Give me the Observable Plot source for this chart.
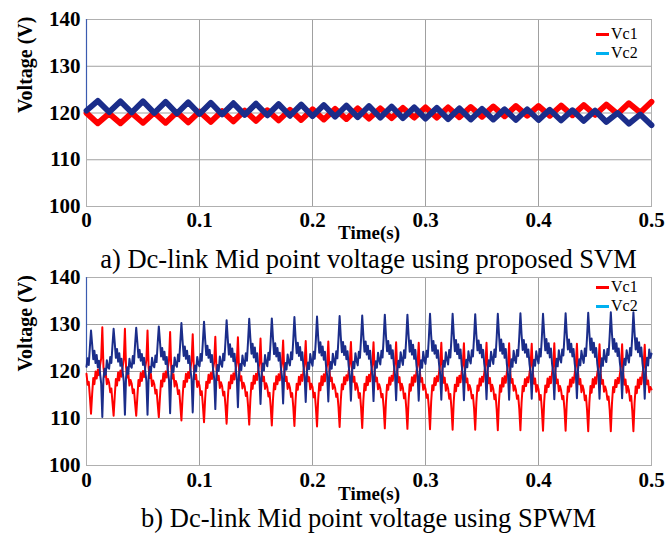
<!DOCTYPE html>
<html>
<head>
<meta charset="utf-8">
<script src="https://cdn.jsdelivr.net/npm/d3@7"></script>
<script src="https://cdn.jsdelivr.net/npm/@observablehq/plot@0.6"></script>
<style>
  body { margin: 0; background: #fff; }
  #wrap { position: relative; width: 665px; height: 541px; overflow: hidden; background: #fff;
          font-family: 'Liberation Serif', serif; color: #000; }
  .panel { position: absolute; left: 0; }
  .caption { position: absolute; left: 86px; width: 565px; text-align: center; font-size: 26.5px;
             line-height: 26px; white-space: nowrap; z-index: 2; }
  .leg { position: absolute; font-size: 16px; line-height: 18px; z-index: 3; }
  .leg .sw { position: absolute; width: 13px; height: 3px; }
</style>
</head>
<body>
<div id="wrap"></div>
<script>
// ---------- labels ----------
const xTicks = [0, 0.1, 0.2, 0.3, 0.4, 0.5];
const xTickLabels = ["0", "0.1", "0.2", "0.3", "0.4", "0.5"];
const yTicks = [100, 110, 120, 130, 140];
const yTickLabels = ["100", "110", "120", "130", "140"];
const seriesNames = ["Vc1", "Vc2"];
const xTitle = "Time(s)";
const yTitle = "Voltage (V)";
const captions = ["a) Dc-link Mid point voltage using proposed SVM", "b) Dc-link Mid point voltage using SPWM"];
const startSpike = 140; // Vc2 trace starts at 140 V at t = 0

// ---------- (a) proposed SVM: vertices every 0.01 s ----------
const svmTime = d3.range(51).map(i => i / 100);
const svmVc1 = [120.0,117.8,119.9,117.8,120.0,117.9,120.1,117.9,120.2,118.0,120.3,118.1,120.4,118.2,120.5,118.3,
  120.6,118.4,120.7,118.5,120.8,118.6,120.9,118.7,121.0,118.8,121.0,118.9,121.1,119.0,121.2,119.0,121.2,119.1,
  121.3,119.2,121.4,119.3,121.5,119.4,121.5,119.4,121.6,119.5,121.7,119.6,121.8,119.8,122.1,120.1,122.4];
const svmVc2 = [120.5,122.6,120.2,122.5,120.1,122.5,120.0,122.4,119.9,122.3,119.8,122.2,119.7,122.1,119.6,122.0,
  119.5,121.9,119.4,121.8,119.3,121.7,119.2,121.6,119.1,121.5,119.0,121.4,118.9,121.2,118.8,121.1,118.7,121.0,
  118.6,120.9,118.6,120.8,118.5,120.8,118.5,120.7,118.4,120.6,118.3,120.5,118.1,120.0,117.7,119.7,117.4];

// ---------- (b) SPWM: samples every 0.001 s (one line per 20 ms cycle) ----------
const spwmTime = d3.range(501).map(i => i / 1000);
const spwmVc1 = [
119.5,117.2,117.8,114.6,111.0,115.2,118.6,117.3,120.0,118.5,120.4,119.2,121.3,122.8,129.4,121.0,118.9,119.8,117.3,118.4,
117.6,115.6,116.4,113.4,110.6,114.8,118.4,117.0,119.8,118.1,120.2,118.9,121.0,122.5,129.1,120.9,118.7,119.6,117.0,118.2,
117.4,115.4,116.2,113.2,110.6,114.6,118.2,116.9,119.7,118.0,120.1,118.8,120.9,122.4,128.7,120.8,118.6,119.5,116.9,118.1,
117.3,115.3,116.1,113.1,110.3,114.5,118.1,116.8,119.6,117.9,120.0,118.7,120.8,122.3,128.4,120.7,118.5,119.4,116.8,118.0,
117.2,115.2,116.0,113.0,109.6,114.4,118.0,116.7,119.5,117.8,119.9,118.6,120.7,122.2,127.9,120.6,118.4,119.3,116.7,117.9,
117.0,115.0,115.8,112.8,109.2,114.2,117.8,116.5,119.3,117.6,119.7,118.4,120.5,122.0,127.4,120.5,118.2,119.1,116.5,117.7,
116.9,114.9,115.7,112.7,108.9,114.1,117.7,116.4,119.2,117.5,119.6,118.3,120.4,121.9,127.3,120.4,118.1,119.0,116.4,117.6,
116.8,114.8,115.6,112.6,108.7,114.0,117.6,116.3,119.1,117.4,119.5,118.2,120.3,121.8,127.0,120.3,118.0,118.9,116.3,117.5,
116.7,114.7,115.5,112.5,108.5,113.9,117.5,116.2,119.0,117.3,119.4,118.1,120.2,121.7,126.6,120.3,118.0,118.9,116.3,117.5,
116.6,114.6,115.4,112.4,108.4,113.8,117.4,116.1,118.9,117.2,119.3,118.0,120.1,121.6,126.5,120.2,117.9,118.8,116.2,117.4,
116.7,114.5,115.5,112.3,108.3,113.9,117.5,116.0,119.0,117.1,119.4,117.9,120.2,121.5,126.4,120.1,118.0,118.7,116.3,117.3,
116.5,114.6,115.3,112.4,108.2,113.7,117.3,116.2,118.8,117.3,119.2,118.1,120.0,121.7,126.3,120.3,117.8,118.9,116.1,117.5,
116.6,114.4,115.4,112.2,108.0,113.8,117.4,116.0,118.9,117.1,119.3,117.9,120.1,121.5,126.2,120.1,117.9,118.7,116.2,117.3,
116.4,114.5,115.2,112.3,107.9,113.6,117.2,116.1,118.7,117.2,119.1,118.0,119.9,121.6,126.2,120.2,117.7,118.8,116.0,117.4,
116.5,114.3,115.3,112.1,107.8,113.7,117.3,115.9,118.8,117.0,119.2,117.8,120.0,121.4,126.1,120.0,117.8,118.6,116.1,117.2,
116.3,114.4,115.1,112.2,107.7,113.5,117.1,116.0,118.6,117.1,119.0,117.9,119.8,121.5,126.1,120.1,117.6,118.7,115.9,117.3,
116.4,114.2,115.2,112.0,107.6,113.6,117.2,115.8,118.7,116.9,119.1,117.7,119.9,121.3,126.0,119.9,117.7,118.5,116.0,117.1,
116.2,114.3,115.0,112.1,107.6,113.4,117.0,115.9,118.5,117.0,118.9,117.8,119.7,121.4,126.1,120.0,117.5,118.6,115.8,117.2,
116.3,114.1,115.1,111.9,107.5,113.5,117.1,115.7,118.6,116.8,119.0,117.6,119.8,121.2,126.0,119.8,117.6,118.4,115.9,117.0,
116.1,114.2,114.9,112.0,107.5,113.3,116.9,115.8,118.4,116.9,118.8,117.7,119.6,121.3,125.9,119.9,117.4,118.5,115.7,117.1,
116.2,114.0,115.0,111.8,107.4,113.4,117.0,115.6,118.5,116.7,118.9,117.5,119.7,121.1,126.0,119.7,117.5,118.3,115.8,116.9,
116.0,114.1,114.8,111.9,107.4,113.2,116.8,115.7,118.3,116.8,118.7,117.6,119.5,121.2,125.9,119.8,117.3,118.4,115.6,117.0,
116.1,113.9,114.9,111.7,107.3,113.3,116.9,115.5,118.4,116.6,118.8,117.4,119.6,121.0,125.8,119.6,117.4,118.2,115.7,116.8,
115.9,114.0,114.7,111.8,107.3,113.1,116.7,115.6,118.2,116.7,118.6,117.5,119.4,121.1,125.8,119.7,117.2,118.3,115.5,116.9,
116.0,113.8,114.8,111.6,107.3,113.2,116.8,115.4,118.3,116.5,118.7,117.3,119.5,120.9,125.7,119.5,117.3,118.1,115.6,116.7,
116.2];
const spwmVc2 = [
121.0,122.8,121.4,125.2,128.7,125.8,122.6,124.4,121.8,123.5,120.9,122.3,119.6,117.4,110.3,118.5,120.6,119.3,122.4,120.9,
120.6,123.1,121.8,125.6,129.1,126.1,122.9,124.8,122.1,123.9,121.2,122.7,119.9,117.9,110.8,118.7,120.9,119.5,122.7,121.2,
120.8,123.3,121.7,125.8,129.3,126.2,123.0,124.6,122.3,123.7,121.4,122.9,120.1,118.0,110.8,118.9,121.0,119.8,122.9,121.3,
120.9,123.4,122.0,126.0,129.6,126.4,123.2,125.0,122.5,124.2,121.6,123.1,120.2,118.2,111.1,119.0,121.2,119.9,123.0,121.5,
121.0,123.6,122.2,126.2,130.3,126.6,123.3,125.3,122.7,124.4,121.8,123.3,120.4,118.3,111.3,119.1,121.3,120.0,123.1,121.6,
121.1,123.7,122.3,126.4,130.6,126.8,123.5,125.5,122.9,124.6,122.0,123.5,120.5,118.5,112.0,119.2,121.4,120.1,123.2,121.7,
121.0,123.8,122.4,126.5,130.9,127.0,123.6,125.8,123.1,124.9,122.2,123.8,120.8,118.6,112.4,119.4,121.6,120.3,123.4,121.8,
121.2,123.9,122.3,126.6,131.2,127.1,123.8,125.9,123.0,125.1,122.1,123.9,120.7,118.8,113.1,119.5,121.7,120.2,123.5,121.9,
121.1,124.0,122.5,126.7,131.3,127.2,123.7,126.0,123.2,125.0,122.3,124.0,120.9,118.9,113.2,119.6,121.8,120.4,123.6,122.0,
121.3,124.1,122.6,126.8,131.6,127.3,123.9,126.1,123.3,125.2,122.4,124.1,121.0,119.0,113.5,119.7,121.9,120.5,123.7,122.1,
121.2,124.2,122.7,126.9,131.7,127.4,124.0,126.2,123.4,125.3,122.5,124.2,121.1,119.1,113.6,119.8,122.0,120.6,123.8,122.2,
121.4,124.3,122.8,127.0,131.8,127.5,124.1,126.3,123.5,125.4,122.6,124.3,121.2,119.2,113.8,119.9,122.1,120.7,123.9,122.3,
121.3,124.2,122.9,127.1,131.9,127.6,124.2,126.4,123.6,125.5,122.7,124.4,121.3,119.3,113.7,120.0,122.2,120.8,124.0,122.4,
121.5,124.4,123.0,127.2,132.1,127.7,124.3,126.5,123.7,125.6,122.8,124.5,121.4,119.4,113.9,120.1,122.3,120.9,124.1,122.5,
121.4,124.5,122.9,127.2,132.1,127.8,124.2,126.6,123.6,125.7,122.7,124.6,121.3,119.3,113.8,120.0,122.4,120.8,124.2,122.4,
121.6,124.4,123.1,127.3,132.3,127.7,124.4,126.5,123.8,125.6,122.9,124.5,121.5,119.5,114.0,120.2,122.3,121.0,124.1,122.6,
121.5,124.6,123.0,127.2,132.3,127.9,124.3,126.7,123.7,125.8,122.8,124.7,121.4,119.4,113.9,120.1,122.5,120.9,124.3,122.5,
121.7,124.5,123.2,127.4,132.2,127.8,124.5,126.6,123.9,125.7,123.0,124.6,121.6,119.6,114.1,120.3,122.4,121.1,124.2,122.7,
121.6,124.7,123.1,127.3,132.3,128.0,124.4,126.8,123.8,125.9,122.9,124.8,121.5,119.5,114.0,120.2,122.6,121.0,124.4,122.6,
121.8,124.6,123.3,127.5,132.4,127.9,124.6,126.7,124.0,125.8,123.1,124.7,121.7,119.7,114.2,120.4,122.5,121.2,124.3,122.8,
121.7,124.8,123.2,127.4,132.3,128.1,124.5,126.9,123.9,126.0,123.0,124.9,121.6,119.6,114.1,120.3,122.7,121.1,124.5,122.7,
121.9,124.7,123.4,127.6,132.4,128.0,124.7,126.8,124.1,125.9,123.2,124.8,121.8,119.8,114.3,120.5,122.6,121.3,124.4,122.9,
121.8,124.9,123.3,127.5,132.5,128.2,124.6,127.0,124.0,126.1,123.1,125.0,121.7,119.7,114.2,120.4,122.8,121.2,124.6,122.8,
122.0,124.8,123.5,127.7,132.6,128.1,124.8,126.9,124.2,126.0,123.3,124.9,121.9,119.9,114.3,120.6,122.7,121.4,124.5,123.0,
121.9,125.0,123.4,127.6,132.6,128.3,124.7,127.1,124.1,126.2,123.2,125.1,121.8,119.8,114.2,120.5,122.9,121.3,124.7,122.9,
123.8];

// ---------- colours ----------
const red = "#ff0000";
const navy = "#1b2d8a";
const spikeColor = "#3b5bb0";
const legendColors = ["#ff0000", "#00b0f0"];

function toRows(time, vals) {
  return time.map((t, i) => ({t, v: vals[i]}));
}

function panel({vc1, vc2, time, width, height, mt, mb, lw, padX, titleDy}) {
  const xlab = v => xTickLabels[xTicks.indexOf(v)];
  const ylab = v => yTickLabels[yTicks.indexOf(v)];
  const spike = [{t: time[0], v: startSpike}, {t: time[0], v: vc2[0]}];
  return Plot.plot({
    width, height,
    marginTop: mt, marginBottom: mb, marginLeft: 86, marginRight: 14,
    style: {fontFamily: "'Liberation Serif', serif", background: "transparent"},
    x: {domain: [0, 0.5]},
    y: {domain: [100, 140]},
    marks: [
      Plot.gridX({ticks: [0.1, 0.2, 0.3, 0.4], stroke: "#a0a0a0", strokeOpacity: 1}),
      Plot.gridY({ticks: [110, 120, 130], stroke: "#a0a0a0", strokeOpacity: 1}),
      Plot.frame({stroke: "#b0b0b0"}),
      Plot.axisX({ticks: xTicks, tickFormat: xlab, tickSize: 0, tickPadding: padX,
                  fontSize: 21, fontWeight: "bold", label: null}),
      Plot.axisY({ticks: yTicks, tickFormat: ylab, tickSize: 0, tickPadding: 6,
                  fontSize: 21, fontWeight: "bold", label: null}),
      Plot.line(spike, {x: "t", y: "v", stroke: spikeColor, strokeWidth: 1.2}),
      Plot.line(toRows(time, vc1), {x: "t", y: "v", stroke: red, strokeWidth: lw, strokeLinejoin: "round"}),
      Plot.line(toRows(time, vc2), {x: "t", y: "v", stroke: navy, strokeWidth: lw, strokeLinejoin: "round"}),
      Plot.text([xTitle], {text: d => d, frameAnchor: "bottom", dy: titleDy, fontSize: 19, fontWeight: "bold"}),
      Plot.text([yTitle], {text: d => d, frameAnchor: "left", dx: -61, rotate: -90, fontSize: 20, fontWeight: "bold"})
    ]
  });
}

const wrap = document.getElementById("wrap");

function place(el, top) {
  const d = document.createElement("div");
  d.className = "panel";
  d.style.top = top + "px";
  d.appendChild(el);
  wrap.appendChild(d);
}

place(panel({vc1: svmVc1, vc2: svmVc2, time: svmTime, width: 665, height: 250, mt: 19, mb: 44, lw: 5.8, padX: 6, titleDy: 32}), 0);
place(panel({vc1: spwmVc1, vc2: spwmVc2, time: spwmTime, width: 665, height: 252, mt: 19, mb: 45, lw: 2, padX: 7, titleDy: 34}), 258);

function caption(text, top) {
  const c = document.createElement("div");
  c.className = "caption";
  c.style.top = top + "px";
  c.textContent = text;
  wrap.appendChild(c);
}
caption(captions[0], 246);
caption(captions[1], 505);

function legend(top) {
  seriesNames.forEach((name, i) => {
    const y = top + i * 19;
    const sw = document.createElement("div");
    sw.className = "leg";
    sw.style.left = "596px";
    sw.style.top = (y - 9) + "px";
    sw.style.width = "50px";
    sw.style.height = "18px";
    const line = document.createElement("span");
    line.className = "sw";
    line.style.background = legendColors[i];
    line.style.left = "0px";
    line.style.top = "8px";
    const txt = document.createElement("span");
    txt.textContent = name;
    txt.style.position = "absolute";
    txt.style.left = "15px";
    txt.style.top = "0px";
    sw.appendChild(line);
    sw.appendChild(txt);
    wrap.appendChild(sw);
  });
}
legend(34);
legend(287);
</script>
</body>
</html>
